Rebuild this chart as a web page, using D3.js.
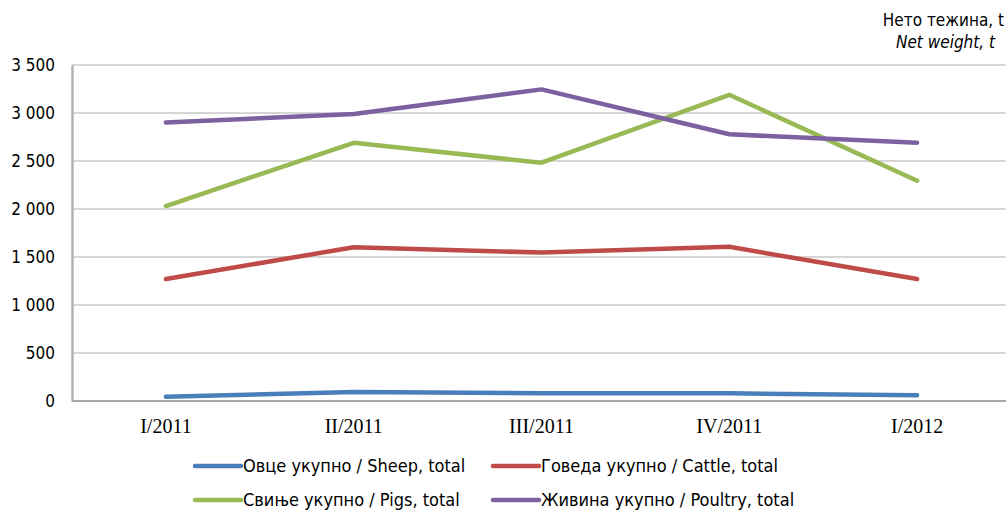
<!DOCTYPE html>
<html><head><meta charset="utf-8">
<script src="https://cdn.jsdelivr.net/npm/d3@7"></script>
<style>
body{margin:0;background:#fff;}
svg{display:block;}
</style></head>
<body>
<svg id="chart" width="1006" height="510"></svg>
<script>
const categories = ["I/2011","II/2011","III/2011","IV/2011","I/2012"];
const sheep   = [45, 94, 80, 80, 59];
const cattle  = [1270, 1602, 1546, 1606, 1270];
const pigs    = [2031, 2690, 2482, 3190, 2295];
const poultry = [2900, 2990, 3246, 2778, 2690];
const yTicks = [0,500,1000,1500,2000,2500,3000,3500];
const seriesNames = ["Овце укупно / Sheep, total","Говеда укупно / Cattle, total","Свиње укупно / Pigs, total","Живина укупно / Poultry, total"];
const seriesColors = ["#4a7ebb","#be4b48","#98b954","#7d60a0"];
const seriesValues = [sheep, cattle, pigs, poultry];

const svg = d3.select("#chart");
const pLeft = 72, pRight = 1011, pTop = 65, pBottom = 401;
const x = d3.scaleBand().domain(categories).range([pLeft, pRight]);
const y = d3.scaleLinear().domain([0,3500]).range([pBottom, pTop]);
const fmt = v => d3.format(",")(v).replace(/,/g," ");
const sans = "DejaVu Sans Condensed, DejaVu Sans";

// gridlines
svg.append("g").selectAll("line").data(yTicks.filter(d=>d>0)).join("line")
  .attr("x1", pLeft).attr("x2", 1006)
  .attr("y1", d=>y(d)).attr("y2", d=>y(d))
  .attr("stroke","#c9c9c9").attr("stroke-width",1.5);

// y axis
const yAxis = svg.append("g").attr("transform",`translate(${pLeft},0)`)
  .call(d3.axisLeft(y).tickValues(yTicks).tickFormat(fmt).tickSize(0).tickPadding(17));
yAxis.select(".domain").attr("stroke","#b3b3b3").attr("stroke-width",2.5);
yAxis.selectAll("text").attr("font-family",sans).attr("font-size",17).attr("fill","#000");

// x axis
const xAxis = svg.append("g").attr("transform",`translate(0,${pBottom})`)
  .call(d3.axisBottom(x).tickSize(0).tickPadding(0));
xAxis.select(".domain").attr("d",`M${pLeft},0H1006`).attr("stroke","#a6a6a6").attr("stroke-width",2);
xAxis.selectAll("text").attr("font-family","Liberation Serif").attr("font-size",20).attr("fill","#000")
  .attr("dy",null).attr("y",32);

// lines
const line = d3.line().x((d,i)=>x(categories[i])+x.bandwidth()/2).y(d=>y(d));
svg.append("g").selectAll("path").data(seriesValues).join("path")
  .attr("d", line).attr("fill","none")
  .attr("stroke",(d,i)=>seriesColors[i]).attr("stroke-width",4.5)
  .attr("stroke-linecap","round").attr("stroke-linejoin","round");

// unit labels
svg.append("text").attr("x",1004).attr("y",26).attr("text-anchor","end")
  .attr("font-family",sans).attr("font-size",17).text("Нето тежина, t");
svg.append("text").attr("x",995).attr("y",48).attr("text-anchor","end")
  .attr("font-family",sans).attr("font-style","italic").attr("font-size",17).text("Net weight, t");

// legend
const legPos = [[195,466],[493,466],[195,500],[493,500]];
const leg = svg.append("g").selectAll("g").data(seriesNames).join("g")
  .attr("transform",(d,i)=>`translate(${legPos[i][0]},${legPos[i][1]})`);
leg.append("line").attr("x1",0).attr("x2",46).attr("y1",0).attr("y2",0)
  .attr("stroke",(d,i)=>seriesColors[i]).attr("stroke-width",4.5).attr("stroke-linecap","round");
leg.append("text").attr("x",48).attr("y",6)
  .attr("font-family",sans).attr("font-size",18).text(d=>d);
</script>
</body></html>
